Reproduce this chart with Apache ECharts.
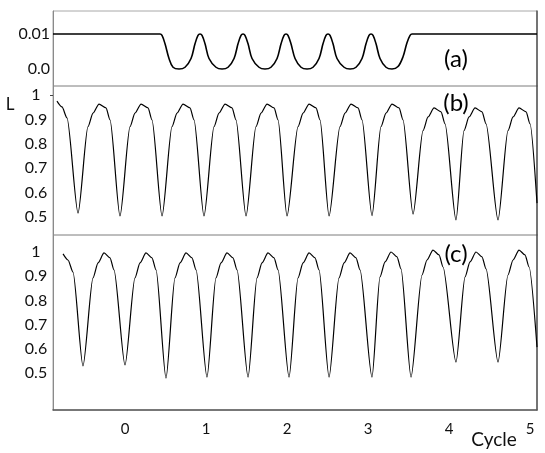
<!DOCTYPE html>
<html>
<head>
<meta charset="utf-8">
<script src="https://cdn.jsdelivr.net/npm/echarts@6/dist/echarts.min.js"></script>
<style>
html,body{margin:0;padding:0;background:#fff;}
#chart{width:545px;height:453px;}
</style>
</head>
<body>
<div id="chart"></div>
<script>
// x in cycles
var xTicks = [0, 1, 2, 3, 4, 5];
var yTicksA = [0, 0.01];
var yTicksBC = [0.5, 0.6, 0.7, 0.8, 0.9, 1];

// panel (a)
var aX = [-0.889, 0.432, 0.457, 0.494, 0.543, 0.593, 0.667,
  0.741, 0.815, 0.864, 0.901, 0.926, 0.951, 0.988, 1.037, 1.123, 1.198,
  1.272, 1.346, 1.395, 1.432, 1.457, 1.481, 1.519, 1.568, 1.654, 1.728,
  1.802, 1.877, 1.926, 1.963, 1.988, 2.012, 2.049, 2.099, 2.173, 2.247,
  2.321, 2.395, 2.444, 2.481, 2.506, 2.531, 2.568, 2.617, 2.704, 2.778,
  2.852, 2.926, 2.975, 3.012, 3.037, 3.062, 3.099, 3.148, 3.222, 3.296,
  3.370, 3.432, 3.481, 3.519, 3.543, 5.086];
var aY = [0.01, 0.01, 0.0096, 0.0072, 0.003, 0.0005, 0,
  0.0005, 0.003, 0.0072, 0.0096, 0.01, 0.0096, 0.0072, 0.003, 0.0005, 0,
  0.0005, 0.003, 0.0072, 0.0096, 0.01, 0.0096, 0.0072, 0.003, 0.0005, 0,
  0.0005, 0.003, 0.0072, 0.0096, 0.01, 0.0096, 0.0072, 0.003, 0.0005, 0,
  0.0005, 0.003, 0.0072, 0.0096, 0.01, 0.0096, 0.0072, 0.003, 0.0005, 0,
  0.0005, 0.003, 0.0072, 0.0096, 0.01, 0.0096, 0.0072, 0.003, 0.0005, 0,
  0.0007, 0.0035, 0.0075, 0.0096, 0.01, 0.01];

// panel (b)
var bX = [-0.840, -0.778, -0.716, -0.580,
  -0.457, -0.395, -0.321, -0.235, -0.185, -0.062,
  0.062, 0.123, 0.198, 0.284, 0.333, 0.457,
  0.580, 0.642, 0.716, 0.802, 0.852, 0.975,
  1.099, 1.160, 1.235, 1.321, 1.370, 1.494,
  1.617, 1.679, 1.753, 1.840, 1.889, 2.000,
  2.136, 2.198, 2.272, 2.358, 2.407, 2.519,
  2.654, 2.716, 2.790, 2.877, 2.926, 3.049,
  3.160, 3.222, 3.296, 3.383, 3.432, 3.556,
  3.679, 3.741, 3.815, 3.901, 3.951, 4.086,
  4.185, 4.247, 4.321, 4.407, 4.457, 4.605,
  4.728, 4.790, 4.864, 4.951, 5.000, 5.086];
var bY = [0.975, 0.951, 0.906, 0.516,
  0.870, 0.926, 0.963, 0.947, 0.898, 0.504,
  0.870, 0.926, 0.963, 0.947, 0.898, 0.504,
  0.870, 0.926, 0.963, 0.947, 0.898, 0.504,
  0.870, 0.926, 0.963, 0.947, 0.898, 0.504,
  0.870, 0.926, 0.963, 0.947, 0.898, 0.504,
  0.870, 0.926, 0.963, 0.947, 0.898, 0.504,
  0.870, 0.926, 0.963, 0.947, 0.898, 0.506,
  0.870, 0.926, 0.963, 0.947, 0.898, 0.512,
  0.854, 0.910, 0.947, 0.931, 0.882, 0.488,
  0.854, 0.910, 0.947, 0.931, 0.882, 0.488,
  0.854, 0.910, 0.947, 0.931, 0.882, 0.557];

// panel (c)
var cX = [-0.765, -0.704, -0.642, -0.519,
  -0.395, -0.333, -0.259, -0.185, -0.136, 0,
  0.123, 0.185, 0.259, 0.333, 0.383, 0.506,
  0.617, 0.679, 0.753, 0.827, 0.877, 1.012,
  1.123, 1.185, 1.259, 1.333, 1.383, 1.519,
  1.630, 1.691, 1.765, 1.840, 1.889, 2.025,
  2.136, 2.198, 2.272, 2.346, 2.395, 2.519,
  2.642, 2.704, 2.778, 2.852, 2.901, 3.049,
  3.148, 3.210, 3.284, 3.358, 3.407, 3.531,
  3.667, 3.728, 3.802, 3.877, 3.926, 4.086,
  4.198, 4.259, 4.333, 4.407, 4.457, 4.605,
  4.728, 4.790, 4.864, 4.938, 4.988, 5.086];
var cY = [0.992, 0.967, 0.917, 0.529,
  0.893, 0.955, 0.996, 0.976, 0.926, 0.533,
  0.893, 0.955, 0.996, 0.976, 0.926, 0.479,
  0.893, 0.955, 0.996, 0.976, 0.926, 0.483,
  0.893, 0.955, 0.996, 0.976, 0.926, 0.483,
  0.893, 0.955, 0.996, 0.976, 0.926, 0.483,
  0.893, 0.955, 0.996, 0.976, 0.926, 0.483,
  0.893, 0.955, 0.996, 0.976, 0.926, 0.483,
  0.897, 0.959, 1.000, 0.980, 0.930, 0.483,
  0.905, 0.967, 1.008, 0.988, 0.938, 0.545,
  0.897, 0.959, 1.000, 0.980, 0.930, 0.545,
  0.905, 0.967, 1.008, 0.988, 0.938, 0.607];

function pairs(xs, ys) { return xs.map(function (x, i) { return [x, ys[i]]; }); }

var FONT = 'Lato';
var X_MIN = -0.889, X_MAX = 5.086;

function xAxis(gi, showLabels) {
  return {
    type: 'value', gridIndex: gi, min: X_MIN, max: X_MAX,
    splitLine: { show: false },
    axisTick: { show: false },
    axisLine: { show: showLabels, onZero: false, lineStyle: { color: '#5a5a5a', width: 1.5 } },
    axisLabel: showLabels ? {
      show: true, customValues: xTicks, margin: 12,
      fontFamily: FONT, fontSize: 15, color: '#111',
      formatter: function (v) { return String(Math.round(v)); }
    } : { show: false }
  };
}
function yAxisLeft(gi, min, max, ticks, fmt, align, margin, tickVals) {
  return {
    type: 'value', gridIndex: gi, min: min, max: max, position: 'left',
    splitLine: { show: false },
    axisLine: { show: true, onZero: false, lineStyle: { color: '#8a8a8a', width: 1 } },
    axisTick: tickVals ? { show: true, customValues: tickVals, length: 3, lineStyle: { color: '#444' } } : { show: false },
    axisLabel: { show: true, customValues: ticks, formatter: fmt, align: align, margin: margin,
      fontFamily: FONT, fontSize: 16, color: '#111' }
  };
}
function yAxisRight(gi) {
  return {
    type: 'value', gridIndex: gi, position: 'right',
    splitLine: { show: false }, axisTick: { show: false }, axisLabel: { show: false },
    axisLine: { show: true, onZero: false, lineStyle: { color: '#555', width: 1.5 } }
  };
}
var fmtBC = function (v) { return v === 1 ? '1' : v.toFixed(1); };
var fmtA = function (v) { return v === 0 ? '0.0' : '0.01'; };

var chart = echarts.init(document.getElementById('chart'), null, { renderer: 'canvas' });
chart.setOption({
  animation: false,
  backgroundColor: '#ffffff',
  grid: [
    { left: 53, width: 484, top: 11, height: 75, show: true, borderColor: '#a8a8a8', borderWidth: 1 },
    { left: 53, width: 484, top: 86, height: 149, show: true, borderColor: '#a8a8a8', borderWidth: 1 },
    { left: 53, width: 484, top: 235, height: 175, show: true, borderColor: '#a8a8a8', borderWidth: 1 }
  ],
  xAxis: [xAxis(0, false), xAxis(1, false), xAxis(2, true)],
  yAxis: [
    yAxisLeft(0, -0.004857, 0.01657, yTicksA, fmtA, 'right', 3, null),
    yAxisLeft(1, 0.4262, 1.0369, yTicksBC, fmtBC, 'center', 17, [1]),
    yAxisLeft(2, 0.3471, 1.0702, yTicksBC, fmtBC, 'center', 17, null),
    yAxisRight(0), yAxisRight(1), yAxisRight(2)
  ],
  series: [
    { type: 'line', xAxisIndex: 0, yAxisIndex: 0, data: pairs(aX, aY), showSymbol: false, smooth: 0.35,
      lineStyle: { color: '#000', width: 1.6 } },
    { type: 'line', xAxisIndex: 1, yAxisIndex: 1, data: pairs(bX, bY), showSymbol: false, smooth: 0.25,
      smoothMonotone: 'x', lineStyle: { color: '#000', width: 1.2 } },
    { type: 'line', xAxisIndex: 2, yAxisIndex: 2, data: pairs(cX, cY), showSymbol: false, smooth: 0.25,
      smoothMonotone: 'x', lineStyle: { color: '#000', width: 1.2 } }
  ],
  graphic: [
    { type: 'text', x: 10, y: 105, style: { text: 'L', font: '17px Lato', fill: '#111', textAlign: 'center', textVerticalAlign: 'middle' } },
    { type: 'text', x: 456, y: 59, style: { text: '(a)', font: '24px Lato', fill: '#000', textAlign: 'center', textVerticalAlign: 'middle' } },
    { type: 'text', x: 456, y: 103, style: { text: '(b)', font: '24px Lato', fill: '#000', textAlign: 'center', textVerticalAlign: 'middle' } },
    { type: 'text', x: 456, y: 254, style: { text: '(c)', font: '24px Lato', fill: '#000', textAlign: 'center', textVerticalAlign: 'middle' } },
    { type: 'text', x: 494, y: 440, style: { text: 'Cycle', font: '19px Lato', fill: '#111', textAlign: 'center', textVerticalAlign: 'middle' } }
  ]
});
</script>
</body>
</html>
